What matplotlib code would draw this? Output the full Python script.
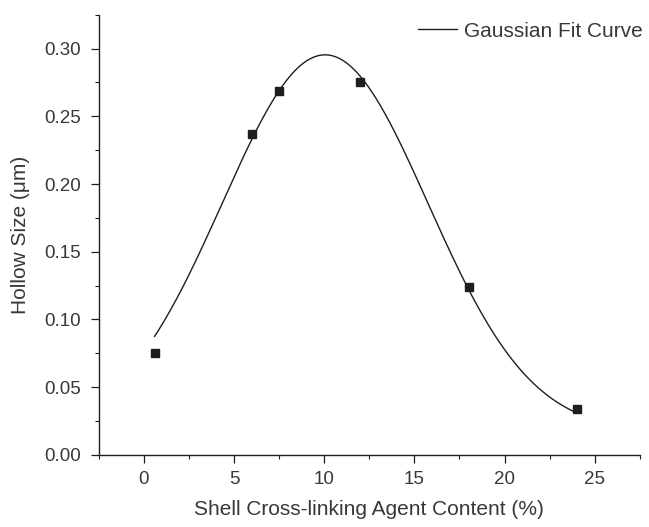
import numpy as np
import matplotlib
matplotlib.use("Agg")
import matplotlib.pyplot as plt
from matplotlib.ticker import MultipleLocator, FormatStrFormatter

# measured data points
content = [0.6, 6.0, 7.5, 12.0, 18.0, 24.0]
hollow = [0.075, 0.237, 0.269, 0.275, 0.124, 0.034]

# Gaussian fit parameters (offset, centre, width, height)
fit_y0 = 0.017
fit_xc = 10.05
fit_w = 5.70
fit_h = 0.2784
fit_range = [0.6, 24.0]

xticks = [0, 5, 10, 15, 20, 25]
yticks = [0.00, 0.05, 0.10, 0.15, 0.20, 0.25, 0.30]

TXT = '#383838'
INK = '#1e1e1e'

plt.rcParams['font.family'] = ['Liberation Sans', 'DejaVu Sans']
fig = plt.figure(figsize=(6.49, 5.27), dpi=100)
ax = fig.add_axes([0.152, 0.137, 0.834, 0.835])

xs = np.linspace(fit_range[0], fit_range[1], 400)
ys = fit_y0 + fit_h * np.exp(-(xs - fit_xc) ** 2 / (2 * fit_w ** 2))
ax.plot(xs, ys, color=INK, lw=1.0, label='Gaussian Fit Curve')
ax.plot(content, hollow, 's', color=INK, ms=5.8, ls='none')

ax.set_xlim(-2.5, 27.5)
ax.set_ylim(0, 0.325)
ax.set_xticks(xticks)
ax.set_yticks(yticks)
ax.xaxis.set_minor_locator(MultipleLocator(2.5))
ax.yaxis.set_minor_locator(MultipleLocator(0.025))
ax.yaxis.set_major_formatter(FormatStrFormatter('%.2f'))

for side in ('top', 'right'):
    ax.spines[side].set_visible(False)
for side in ('left', 'bottom'):
    ax.spines[side].set_color(INK)
    ax.spines[side].set_linewidth(1.0)

ax.tick_params(which='major', direction='out', length=6, width=0.9,
               color=INK, labelsize=13.5, labelcolor=TXT)
ax.tick_params(axis='x', which='major', pad=6)
ax.tick_params(axis='y', which='major', pad=7)
ax.tick_params(which='minor', direction='out', length=3, width=0.8, color=INK)

ax.set_xlabel('Shell Cross-linking Agent Content (%)', fontsize=15, color=TXT, labelpad=8)
ax.set_ylabel('Hollow Size (\u03bcm)', fontsize=15, color=TXT, labelpad=10)

leg = ax.legend(loc='upper right', bbox_to_anchor=(1.02, 1.003), frameon=False,
                fontsize=15, handlelength=1.9, handletextpad=0.3, borderaxespad=0.0)
for t in leg.get_texts():
    t.set_color(TXT)

plt.savefig('out.png', dpi=100)
